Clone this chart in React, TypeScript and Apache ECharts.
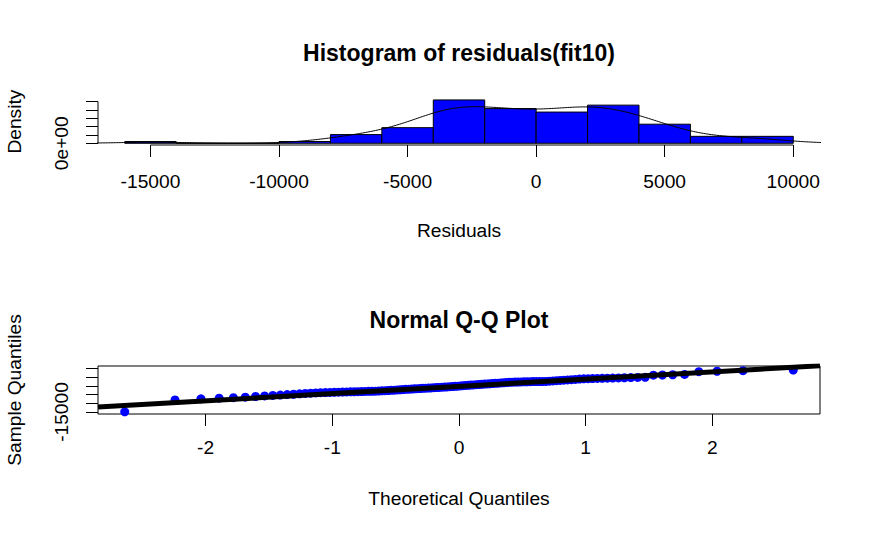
import React, { useEffect, useRef } from "react";
import * as echarts from "echarts";

// ---------- data ----------
const histBreaks = [-16000, -14000, -12000, -10000, -8000, -6000, -4000, -2000, 0, 2000, 4000, 6000, 8000, 10000];
const histCounts = [1, 0, 0, 1, 5, 9, 25, 20, 18, 22, 11, 4, 4];
const histXTicks = [-15000, -10000, -5000, 0, 5000, 10000];
const histYTicks = [0, 2e-5, 4e-5, 6e-5, 8e-5, 1e-4];
const histYLabels = [0];

// sorted residuals (n = 120)
const residuals = [
  -14900, -8150, -7450, -7100, -6800, -6500, -6150,
  -5800, -5550, -5300, -5050, -4850, -4600, -4400, -4250, -4100,
  -3950, -3880, -3800, -3730, -3660, -3600, -3540, -3480, -3420, -3360, -3300, -3240, -3190, -3150,
  -3120, -3020, -2920, -2820, -2720, -2620, -2520, -2410, -2300, -2180, -2060,
  -1960, -1870, -1770, -1680, -1580, -1490, -1400, -1300, -1210, -1110,
  -1020, -930, -830, -740, -640, -540, -440, -340, -230, -110,
  60, 170, 280, 390, 500, 610, 720, 830, 940, 1050,
  1160, 1270, 1380, 1490, 1600, 1720, 1840, 1950,
  2030, 2080, 2130, 2180, 2230, 2280, 2330, 2380, 2410, 2420, 2430, 2460,
  2600, 2750, 2900, 3050, 3200, 3350, 3500, 3650, 3800, 3950,
  4030, 4100, 4180, 4260, 4340, 4420, 4500, 4580, 4660, 4750, 4850,
  6050, 6150, 6300, 6500,
  8050, 8300, 8600, 9000,
];
const qqXTicks = [-2, -1, 0, 1, 2];
const qqYTicks = [-15000, -10000, -5000, 0, 5000, 10000];
const qqYLabels = [-15000];
const qqYLimits = [-16150, 11300];

// ---------- helpers (R's qnorm / quantile / density / qqline) ----------
function qnorm(p: number): number {
  const a = [-39.69683028665376, 220.9460984245205, -275.9285104469687, 138.357751867269, -30.66479806614716, 2.506628277459239];
  const b = [-54.47609879822406, 161.5858368580409, -155.6989798598866, 66.80131188771972, -13.28068155288572];
  const c = [-0.007784894002430293, -0.3223964580411365, -2.400758277161838, -2.549732539343734, 4.374664141464968, 2.938163982698783];
  const d = [0.007784695709041462, 0.3224671290700398, 2.445134137142996, 3.754408661907416];
  const plow = 0.02425;
  if (p < plow) {
    const q = Math.sqrt(-2 * Math.log(p));
    return (((((c[0] * q + c[1]) * q + c[2]) * q + c[3]) * q + c[4]) * q + c[5]) / ((((d[0] * q + d[1]) * q + d[2]) * q + d[3]) * q + 1);
  }
  if (p <= 1 - plow) {
    const q = p - 0.5;
    const r = q * q;
    return ((((((a[0] * r + a[1]) * r + a[2]) * r + a[3]) * r + a[4]) * r + a[5]) * q) / (((((b[0] * r + b[1]) * r + b[2]) * r + b[3]) * r + b[4]) * r + 1);
  }
  const q = Math.sqrt(-2 * Math.log(1 - p));
  return -(((((c[0] * q + c[1]) * q + c[2]) * q + c[3]) * q + c[4]) * q + c[5]) / ((((d[0] * q + d[1]) * q + d[2]) * q + d[3]) * q + 1);
}

function quantile7(sorted: number[], p: number): number {
  const n = sorted.length;
  const h = (n - 1) * p;
  const lo = Math.floor(h);
  const hi = Math.min(lo + 1, n - 1);
  return sorted[lo] + (h - lo) * (sorted[hi] - sorted[lo]);
}

const FONT = "'Liberation Sans', Arial, Helvetica, sans-serif";

export default function App() {
  const ref = useRef<HTMLDivElement>(null);

  useEffect(() => {
    if (!ref.current) return;
    const chart = echarts.init(ref.current, undefined, { renderer: "svg" });

    const n = residuals.length;
    const total = histCounts.reduce((s, v) => s + v, 0);
    const binW = histBreaks[1] - histBreaks[0];
    const dens = histCounts.map((c) => c / (total * binW));
    const maxD = Math.max(...dens);
    const span = histBreaks[histBreaks.length - 1] - histBreaks[0];
    const hx0 = histBreaks[0] - 0.04 * span;
    const hx1 = histBreaks[histBreaks.length - 1] + 0.04 * span;
    const hy0 = -0.04 * maxD;
    const hy1 = 1.04 * maxD;

    // kernel density (bw.nrd0, gaussian)
    const mean = residuals.reduce((s, v) => s + v, 0) / n;
    const sd = Math.sqrt(residuals.reduce((s, v) => s + (v - mean) * (v - mean), 0) / (n - 1));
    const iqr = quantile7(residuals, 0.75) - quantile7(residuals, 0.25);
    const bw = 0.9 * Math.min(sd, iqr / 1.34) * Math.pow(n, -0.2);
    const dFrom = residuals[0] - 3 * bw;
    const dTo = residuals[n - 1] + 3 * bw;
    const densityLine: number[][] = [];
    for (let k = 0; k < 512; k++) {
      const x = dFrom + ((dTo - dFrom) * k) / 511;
      let s = 0;
      for (const v of residuals) {
        const u = (x - v) / bw;
        s += Math.exp(-0.5 * u * u);
      }
      densityLine.push([x, s / (n * bw * Math.sqrt(2 * Math.PI))]);
    }

    // normal QQ
    const theo = residuals.map((_, i) => qnorm((i + 1 - 0.5) / n));
    const qqPoints = residuals.map((v, i) => [theo[i], v]);
    const tr = theo[n - 1] - theo[0];
    const qx0 = theo[0] - 0.04 * tr;
    const qx1 = theo[n - 1] + 0.04 * tr;
    const y1 = quantile7(residuals, 0.25);
    const y2 = quantile7(residuals, 0.75);
    const x1 = qnorm(0.25);
    const x2 = qnorm(0.75);
    const slope = (y2 - y1) / (x2 - x1);
    const intercept = y1 - slope * x1;
    const qqLine = [
      [qx0, intercept + slope * qx0],
      [qx1, intercept + slope * qx1],
    ];

    const labelStyle = { color: "#000", fontSize: 19.2, fontFamily: FONT };
    const tickStyle = { color: "#000", width: 1 };

    const option: any = {
      animation: false,
      backgroundColor: "#ffffff",
      textStyle: { fontFamily: FONT },
      grid: [
        { left: 98, top: 98.2, width: 722, height: 46.8, show: false, containLabel: false, outerBoundsMode: "none" },
        { left: 98, top: 366, width: 722, height: 48, show: true, borderColor: "#000", borderWidth: 1, backgroundColor: "transparent", containLabel: false, outerBoundsMode: "none" },
      ],
      xAxis: [
        {
          type: "value", gridIndex: 0, min: hx0, max: hx1,
          axisLine: { show: false, onZero: false },
          splitLine: { show: false },
          axisTick: { show: true, length: 12, customValues: histXTicks, lineStyle: tickStyle },
          axisLabel: { show: true, customValues: histXTicks, margin: 27, ...labelStyle, formatter: (v: number) => String(v) },
          name: "Residuals", nameLocation: "middle", nameGap: 76,
          nameTextStyle: { ...labelStyle },
        },
        {
          type: "value", gridIndex: 1, min: qx0, max: qx1,
          axisLine: { show: false, onZero: false },
          splitLine: { show: false },
          axisTick: { show: true, length: 12, customValues: qqXTicks, lineStyle: tickStyle },
          axisLabel: { show: true, customValues: qqXTicks, margin: 23.5, ...labelStyle, formatter: (v: number) => String(v) },
          name: "Theoretical Quantiles", nameLocation: "middle", nameGap: 74.5,
          nameTextStyle: { ...labelStyle },
        },
      ],
      yAxis: [
        {
          type: "value", gridIndex: 0, min: hy0, max: hy1,
          axisLine: { show: false, onZero: false },
          splitLine: { show: false },
          axisTick: { show: true, length: 12, customValues: histYTicks, lineStyle: tickStyle },
          axisLabel: { show: true, customValues: histYLabels, margin: 27, rotate: 90, ...labelStyle, formatter: () => "0e+00" },
          name: "Density", nameLocation: "middle", nameGap: 74, nameRotate: 90,
          nameTextStyle: { ...labelStyle },
        },
        {
          type: "value", gridIndex: 1, min: qqYLimits[0], max: qqYLimits[1],
          axisLine: { show: false, onZero: false },
          splitLine: { show: false },
          axisTick: { show: true, length: 12, customValues: qqYTicks, lineStyle: tickStyle },
          axisLabel: { show: true, customValues: qqYLabels, margin: 27, rotate: 90, ...labelStyle, formatter: (v: number) => String(v) },
          name: "Sample Quantiles", nameLocation: "middle", nameGap: 74, nameRotate: 90,
          nameTextStyle: { ...labelStyle },
        },
      ],
      graphic: [
        {
          type: "text", x: 459, y: 53, silent: true,
          style: { text: "Histogram of residuals(fit10)", fill: "#000", fontSize: 23, fontWeight: "bold", fontFamily: FONT, align: "center", verticalAlign: "middle" },
        },
        {
          type: "text", x: 459, y: 320, silent: true,
          style: { text: "Normal Q-Q Plot", fill: "#000", fontSize: 23, fontWeight: "bold", fontFamily: FONT, align: "center", verticalAlign: "middle" },
        },
      ],
      series: [
        {
          type: "custom", xAxisIndex: 0, yAxisIndex: 0, clip: false, silent: true,
          data: histCounts.map((_, i) => [histBreaks[i], histBreaks[i + 1], dens[i]]),
          encode: { x: [0, 1], y: 2 },
          renderItem: (params: any, api: any) => {
            const p0 = api.coord([api.value(0), api.value(2)]);
            const p1 = api.coord([api.value(1), 0]);
            return {
              type: "rect",
              shape: { x: p0[0], y: p0[1], width: p1[0] - p0[0], height: p1[1] - p0[1] },
              style: { fill: "#0000ff", stroke: "#000", lineWidth: 1 },
            };
          },
        },
        {
          type: "line", xAxisIndex: 0, yAxisIndex: 0, data: densityLine, showSymbol: false, symbol: "none",
          lineStyle: { color: "#000", width: 1 }, clip: true, silent: true,
        },
        {
          type: "line", xAxisIndex: 0, yAxisIndex: 0,
          data: [[histXTicks[0], hy0], [histXTicks[histXTicks.length - 1], hy0]],
          symbol: "none", lineStyle: { color: "#000", width: 1 }, clip: false, silent: true,
        },
        {
          type: "line", xAxisIndex: 0, yAxisIndex: 0,
          data: [[hx0, histYTicks[0]], [hx0, histYTicks[histYTicks.length - 1]]],
          symbol: "none", lineStyle: { color: "#000", width: 1 }, clip: false, silent: true,
        },
        {
          type: "scatter", xAxisIndex: 1, yAxisIndex: 1, data: qqPoints,
          symbol: "circle", symbolSize: 9, itemStyle: { color: "#0000ff", opacity: 1 }, clip: true, silent: true,
        },
        {
          type: "line", xAxisIndex: 1, yAxisIndex: 1, data: qqLine, symbol: "none",
          lineStyle: { color: "#000", width: 5 }, clip: true, silent: true, z: 3,
        },
      ],
    };

    chart.setOption(option);
    return () => chart.dispose();
  }, []);

  return (
    <div
      ref={ref}
      style={{ position: "fixed", left: 0, top: 0, width: 871, height: 537, background: "#fff" }}
    />
  );
}
